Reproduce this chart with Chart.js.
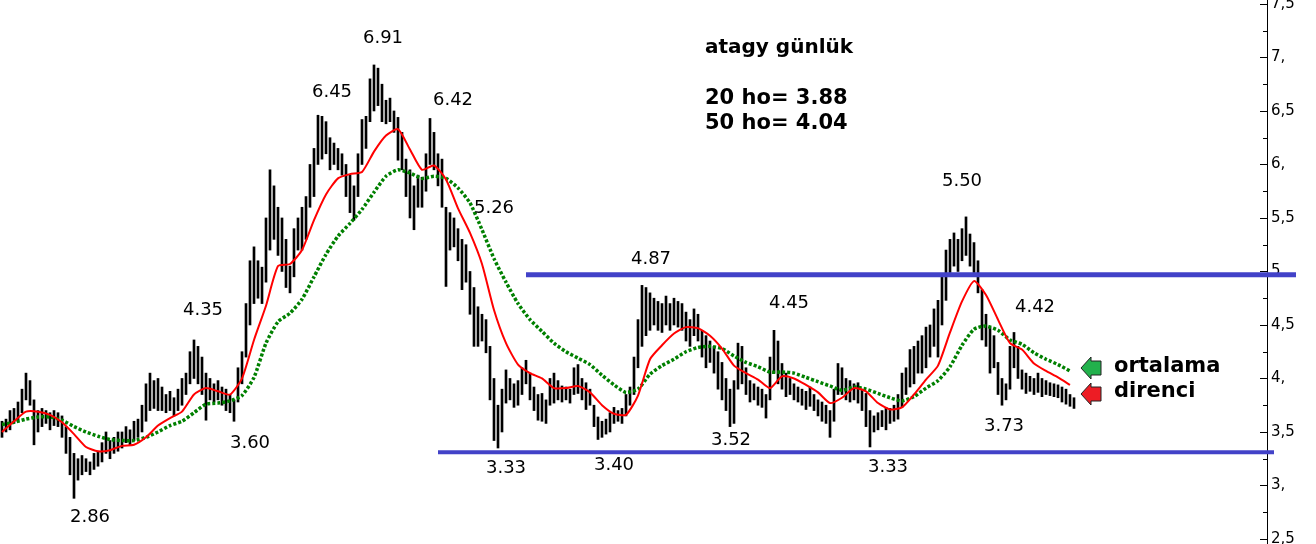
<!DOCTYPE html>
<html lang="tr">
<head>
<meta charset="UTF-8">
<title>atagy günlük</title>
<script src="https://cdn.jsdelivr.net/npm/chart.js"></script>
<style>
  html, body { margin: 0; padding: 0; background: #fff; }
  canvas { display: block; }
</style>
</head>
<body>
<canvas id="grafik" width="1316" height="544"></canvas>
<script>
  // Günlük barlar: en düşük / en yüksek (soldan sağa, 5'erli gruplar)
  const dusuk = [
    3.45,3.5,3.52,3.58,3.6,  3.68,3.8,3.75,3.38,3.5,  3.55,3.58,3.52,3.56,3.55,  3.45,3.3,3.1,2.88,3.05,
    3.1,3.13,3.1,3.15,3.18,  3.22,3.3,3.25,3.3,3.32,  3.35,3.4,3.38,3.42,3.45,  3.5,3.6,3.7,3.72,3.7,
    3.7,3.68,3.7,3.65,3.7,  3.75,3.85,3.95,4.0,3.95,  3.85,3.61,3.8,3.78,3.8,  3.75,3.7,3.68,3.6,3.78,
    3.95,4.2,4.5,4.7,4.75,  4.7,4.9,5.2,5.3,5.15,  5.0,4.85,4.8,4.95,5.2,  5.2,5.3,5.6,5.7,6.0,
    6.05,6.1,5.95,6.0,5.95,  5.9,5.7,5.55,5.48,5.7,  6.0,6.15,6.4,6.5,6.55,  6.4,6.38,6.4,6.3,6.04,
    5.95,5.7,5.5,5.39,5.6,  5.6,5.75,6.0,5.95,5.8,  5.6,4.86,5.2,5.23,5.1,  4.83,4.9,4.6,4.3,4.3,
    4.35,4.24,3.8,3.42,3.35,  3.5,3.77,3.8,3.73,3.75,  3.85,3.95,3.8,3.7,3.61,  3.6,3.58,3.75,3.77,3.8,
    3.78,3.8,3.77,3.85,3.86,  3.8,3.71,3.75,3.55,3.43,  3.45,3.48,3.5,3.58,3.6,  3.58,3.65,3.75,3.85,4.1,
    4.3,4.4,4.45,4.5,4.45,  4.43,4.5,4.45,4.5,4.48,  4.45,4.35,4.3,4.4,4.35,  4.2,4.1,4.15,4.05,3.9,
    3.8,3.7,3.55,3.58,3.9,  3.95,3.85,3.78,3.8,3.75,  3.73,3.63,3.8,4.05,3.95,  3.9,3.83,3.85,3.8,3.78,
    3.75,3.71,3.74,3.7,3.65,  3.6,3.58,3.45,3.6,3.85,  3.85,3.8,3.78,3.8,3.77,  3.7,3.55,3.36,3.5,3.52,
    3.55,3.52,3.58,3.6,3.62,  3.73,3.85,3.92,3.95,4.05,  4.05,4.1,4.2,4.3,4.2,  4.5,4.73,4.99,5.05,5.0,
    5.1,5.15,5.05,4.99,4.8,  4.36,4.3,4.05,4.1,3.85,  3.75,3.8,3.9,4.1,4.0,  3.9,3.86,3.88,3.85,3.87,
    3.83,3.85,3.84,3.83,3.82,  3.78,3.76,3.74,3.72
  ];
  const yuksek = [
    3.6,3.62,3.7,3.72,3.78,  3.9,4.05,3.98,3.8,3.7,  3.72,3.7,3.68,3.7,3.68,  3.65,3.55,3.45,3.3,3.25,
    3.28,3.25,3.22,3.3,3.32,  3.4,3.5,3.42,3.45,3.5,  3.5,3.55,3.52,3.6,3.62,  3.75,3.95,4.05,3.98,4.0,
    3.92,3.85,3.88,3.82,3.9,  4.0,4.05,4.25,4.36,4.3,  4.2,4.05,4.0,3.95,3.98,  3.92,3.9,3.85,3.8,4.1,
    4.25,4.7,5.1,5.23,5.1,  5.04,5.5,5.95,5.8,5.6,  5.5,5.3,5.05,5.4,5.5,  5.6,5.7,6.0,6.15,6.46,
    6.45,6.4,6.25,6.2,6.15,  6.1,6.0,5.9,5.8,6.1,  6.42,6.45,6.8,6.93,6.9,  6.75,6.6,6.62,6.5,6.44,
    6.3,6.05,5.95,5.8,5.9,  5.88,6.1,6.43,6.3,6.1,  6.05,5.6,5.55,5.5,5.4,  5.3,5.25,5.0,4.85,4.67,
    4.6,4.55,4.3,4.0,3.75,  3.9,4.08,4.0,3.95,3.98,  4.1,4.17,4.05,3.92,3.85,  3.86,3.8,4.0,4.05,3.98,
    3.93,3.92,3.9,4.1,4.13,  4.0,3.96,3.9,3.75,3.64,  3.6,3.62,3.68,3.73,3.7,  3.72,3.85,3.92,4.2,4.55,
    4.87,4.85,4.8,4.75,4.72,  4.7,4.77,4.7,4.75,4.72,  4.7,4.62,4.55,4.65,4.6,  4.45,4.4,4.35,4.3,4.25,
    4.15,4.0,3.9,3.98,4.33,  4.3,4.1,3.98,3.95,3.92,  3.9,3.85,4.2,4.45,4.35,  4.14,4.05,4.0,3.95,3.92,
    3.9,3.88,3.92,3.85,3.8,  3.78,3.75,3.7,3.9,4.14,  4.1,4.0,3.98,3.95,3.96,  3.9,3.86,3.7,3.65,3.68,
    3.7,3.73,3.72,3.75,3.85,  4.05,4.1,4.27,4.3,4.35,  4.4,4.48,4.5,4.65,4.73,  4.95,5.2,5.3,5.36,5.3,
    5.4,5.51,5.35,5.27,5.1,  4.83,4.6,4.48,4.4,4.15,  4.0,3.95,4.3,4.43,4.3,  4.08,4.05,4.02,4.0,4.05,
    4.0,3.98,3.96,3.95,3.94,  3.92,3.9,3.85,3.82
  ];

  // Hareketli ortalamalar, her 3 günde bir okunan değerler
  const ortalamaAdim = 3;
  const ho20 = [
    3.50,3.60,3.69,3.69,3.66,3.59,3.48,3.36,3.32,3.33,3.37,3.38,3.45,3.56,3.63,3.69,3.85,3.91,3.88,3.85,
    4.00,4.36,4.68,5.05,5.07,5.20,5.48,5.72,5.87,5.91,5.93,6.12,6.27,6.33,6.14,5.95,5.99,5.86,5.59,5.36,
    5.07,4.64,4.33,4.13,4.05,4.00,3.91,3.91,3.93,3.87,3.75,3.67,3.66,3.84,4.18,4.31,4.42,4.48,4.47,4.40,
    4.28,4.12,4.05,3.99,3.91,4.02,4.00,3.94,3.87,3.77,3.82,3.91,3.88,3.77,3.71,3.73,3.85,3.99,4.12,4.43,
    4.72,4.91,4.78,4.55,4.33,4.27,4.14,4.07,4.01,3.94
  ];
  const ho50 = [
    3.57,3.59,3.62,3.64,3.64,3.61,3.55,3.50,3.46,3.43,3.42,3.42,3.45,3.50,3.56,3.60,3.68,3.76,3.77,3.79,
    3.84,4.01,4.33,4.53,4.61,4.74,4.95,5.16,5.33,5.45,5.58,5.74,5.89,5.95,5.92,5.87,5.89,5.87,5.78,5.64,
    5.39,5.12,4.90,4.70,4.55,4.44,4.33,4.25,4.19,4.13,4.03,3.94,3.87,3.90,4.04,4.12,4.18,4.25,4.29,4.30,
    4.28,4.21,4.15,4.11,4.06,4.06,4.05,4.01,3.97,3.93,3.89,3.92,3.90,3.86,3.82,3.79,3.83,3.91,3.98,4.11,
    4.31,4.46,4.49,4.45,4.36,4.32,4.24,4.18,4.13,4.07
  ];

  // Yatay destek / direnç çizgileri (gün aralığı ve seviye)
  const seviyeDeger = [4.97, 3.31];
  const seviyeBas = [131, 109];
  const seviyeSon = [323.5, 318];

  // Tepe / dip etiketleri
  const etiketMetin = ['2.86','3.60','4.35','6.45','6.91','6.42','5.26','3.33','3.40','4.87','3.52','4.45','3.33','5.50','3.73','4.42'];
  const etiketGun   = [22, 62, 50.25, 82.5, 95.25, 112.75, 123, 126, 153, 162.25, 182.25, 196.75, 221.5, 240, 250.5, 258.25];
  const etiketDeger = [2.705, 3.397, 4.64, 6.678, 7.18, 6.603, 5.593, 3.164, 3.192, 5.117, 3.425, 4.706, 3.173, 5.846, 3.556, 4.668];

  const yMin = 2.453, yMax = 7.537;
  const gunMax = 316.25;

  const barVerisi = dusuk.map((d, i) => ({ x: i, y: [d, yuksek[i]] }));
  const ho20Verisi = ho20.map((v, k) => ({ x: k * ortalamaAdim, y: v }));
  const ho50Verisi = ho50.map((v, k) => ({ x: k * ortalamaAdim, y: v }));
  const seviyeSetleri = seviyeDeger.map((v, i) => ({
    type: 'line',
    data: [{ x: seviyeBas[i], y: v }, { x: seviyeSon[i], y: v }],
    borderColor: 'rgb(66,66,200)',
    borderWidth: i === 0 ? 5 : 4,
    pointRadius: 0,
    clip: false,
    order: 0
  }));

  // Eksen işaretleri, etiketler, oklar
  const ekler = {
    id: 'ekler',
    afterDraw(chart) {
      const ctx = chart.ctx;
      const x = chart.scales.x, y = chart.scales.y;
      const sag = chart.chartArea.right;
      ctx.save();
      ctx.strokeStyle = '#000';
      ctx.lineWidth = 1;
      for (let k = 10; k <= 30; k++) {
        const py = Math.round(y.getPixelForValue(k / 4)) + 0.5;
        const uz = k % 2 === 0 ? 7 : 4;
        ctx.beginPath();
        ctx.moveTo(sag - uz, py);
        ctx.lineTo(sag, py);
        ctx.stroke();
      }

      ctx.fillStyle = '#000';
      ctx.font = '18px "DejaVu Sans"';
      ctx.textAlign = 'center';
      ctx.textBaseline = 'middle';
      etiketMetin.forEach((t, i) => {
        ctx.fillText(t, x.getPixelForValue(etiketGun[i]), y.getPixelForValue(etiketDeger[i]));
      });

      ctx.textAlign = 'left';
      ctx.font = 'bold 20px "DejaVu Sans"';
      ctx.fillText('atagy günlük', 705, 48);
      ctx.font = 'bold 21px "DejaVu Sans"';
      ctx.fillText('20 ho= 3.88', 705, 99);
      ctx.fillText('50 ho= 4.04', 705, 124);
      ctx.fillText('ortalama', 1114, 367);
      ctx.fillText('direnci', 1114, 392);

      // sola bakan oklar
      function ok(renk, ux, uy) {
        ctx.beginPath();
        ctx.moveTo(ux, uy);
        ctx.lineTo(ux + 10, uy - 11);
        ctx.lineTo(ux + 10, uy - 7);
        ctx.lineTo(ux + 20, uy - 7);
        ctx.lineTo(ux + 20, uy + 7);
        ctx.lineTo(ux + 10, uy + 7);
        ctx.lineTo(ux + 10, uy + 11);
        ctx.closePath();
        ctx.fillStyle = renk;
        ctx.fill();
        ctx.strokeStyle = '#222';
        ctx.stroke();
      }
      ok('#22b14c', 1081, 368);
      ok('#ed1c24', 1081, 394);
      ctx.restore();
    }
  };

  new Chart(document.getElementById('grafik'), {
    type: 'bar',
    data: {
      datasets: [
        ...seviyeSetleri,
        {
          type: 'line',
          data: ho20Verisi,
          borderColor: 'rgb(255,0,0)',
          borderWidth: 2,
          pointRadius: 0,
          tension: 0.2,
          order: 1
        },
        {
          type: 'line',
          data: ho50Verisi,
          borderColor: 'rgb(0,128,0)',
          borderWidth: 3.5,
          borderDash: [3, 2],
          pointRadius: 0,
          tension: 0.2,
          order: 2
        },
        {
          type: 'bar',
          data: barVerisi,
          backgroundColor: '#000',
          barThickness: 2,
          grouped: false,
          order: 3
        }
      ]
    },
    options: {
      responsive: false,
      animation: false,
      devicePixelRatio: 1,
      layout: { padding: 0 },
      plugins: { legend: { display: false }, tooltip: { enabled: false } },
      scales: {
        x: {
          type: 'linear',
          display: false,
          min: -0.5,
          max: gunMax,
          offset: false
        },
        y: {
          position: 'right',
          min: yMin,
          max: yMax,
          grid: { display: false, drawTicks: false },
          border: { display: true, color: '#000', width: 1 },
          ticks: {
            stepSize: 0.5,
            includeBounds: false,
            padding: 4,
            color: '#000',
            font: { family: 'DejaVu Sans', size: 15 },
            callback: (v) => {
              if (Math.abs(v * 2 - Math.round(v * 2)) > 1e-6) return '';
              const p = String(v).split('.');
              return p[0] + ',' + (p[1] || '');
            }
          },
          afterFit(scale) {
            scale.width = 49;
            scale.paddingTop = 0;
            scale.paddingBottom = 0;
          }
        }
      }
    },
    plugins: [ekler]
  });
</script>
</body>
</html>
